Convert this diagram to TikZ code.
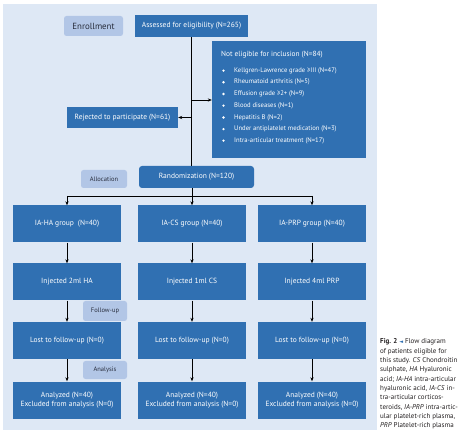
\documentclass[tikz,border=0pt]{standalone}
\usepackage{fontspec}
\setmainfont{PT Sans}
\newfontfamily\dejavu{DejaVu Sans}
\usetikzlibrary{arrows.meta}
\definecolor{panel}{RGB}{222,232,245}
\definecolor{boxblue}{RGB}{48,112,178}
\definecolor{labblue}{RGB}{178,198,230}
\definecolor{labtext}{RGB}{40,45,60}
\definecolor{captext}{RGB}{35,31,32}
\begin{document}
\begin{tikzpicture}[x=1pt,y=-1pt,
  bx/.style={fill=boxblue, text=white, font=\fontsize{7.5}{9.5}\selectfont, inner sep=0pt, align=center},
  bxt/.style={text=white, font=\fontsize{7.5}{9.5}\selectfont, inner sep=0pt},
  lab/.style={fill=labblue, text=labtext, rounded corners=2.5pt, inner sep=0pt, font=\fontsize{6.5}{8}\selectfont},
  itm/.style={anchor=west, text=white, inner sep=0pt, font=\fontsize{6.65}{8}\selectfont},
  bul/.style={circle, fill=white, inner sep=0pt, minimum size=2.6pt},
  arr/.style={draw=black, line width=0.8pt, -{Stealth[length=4pt,width=3.2pt]}},
  ln/.style={draw=black, line width=0.8pt}]
\useasboundingbox (0,0) rectangle (466,438);
\fill[panel] (3,4) rectangle (377,430);

\node[lab, minimum width=59pt, minimum height=20pt, font=\fontsize{8.9}{10}\selectfont] (enr) at (93.5,26) {Enrollment};
\node[bx, minimum width=113pt, minimum height=22pt] (ass) at (191.5,26) {Assessed for eligibility (N=265)};
\node[bx, minimum width=154pt, minimum height=117pt] (ne) at (289,99.5) {};
\node[itm, font=\fontsize{7.4}{8}\selectfont] (neh) at (221,55) {Not eligible for inclusion (N=84)};
\node[bul] (b1) at (223.5,70.7) {}; \node[itm] (t1) at (234,70.7) {Kellgren-Lawrence grade ≥III (N=47)};
\node[bul] (b2) at (223.5,82.3) {}; \node[itm] (t2) at (234,82.3) {Rheumatoid arthritis (N=5)};
\node[bul] (b3) at (223.5,94) {}; \node[itm] (t3) at (234,94) {Effusion grade ≥2+ (N=9)};
\node[bul] (b4) at (223.5,105.7) {}; \node[itm] (t4) at (234,105.7) {Blood diseases (N=1)};
\node[bul] (b5) at (223.5,117.5) {}; \node[itm] (t5) at (234,117.5) {Hepatitis B (N=2)};
\node[bul] (b6) at (223.5,129.1) {}; \node[itm] (t6) at (234,129.1) {Under antiplatelet medication (N=3)};
\node[bul] (b7) at (223.5,140.7) {}; \node[itm] (t7) at (234,140.7) {Intra-articular treatment (N=17)};
\node[bx, minimum width=111pt, minimum height=21pt] (rej) at (122.5,117.5) {Rejected to participate (N=61)};
\node[bx, rounded corners=3pt, minimum width=115pt, minimum height=22pt] (ran) at (196.5,177) {Randomization (N=120)};
\node[lab, minimum width=46pt, minimum height=18pt] (alloc) at (104,179) {Allocation};

\foreach \n/\x in {a/67,b/192,c/312}{
  \node[bx, minimum width=108pt, minimum height=37pt] (g\n) at (\x,224) {};
  \node[bx, minimum width=108pt, minimum height=37pt] (i\n) at (\x,282) {};
  \node[bx, minimum width=108pt, minimum height=37pt] (l\n) at (\x,340.5) {Lost to follow-up (N=0)};
  \node[bx, minimum width=108pt, minimum height=37pt] (z\n) at (\x,400) {Analyzed (N=40)\\Excluded from analysis (N=0)};
}
\node[bxt] (ga-t) at (ga) {IA-HA group\ \ (N=40)};
\node[bxt] (gb-t) at (gb) {IA-CS group (N=40)};
\node[bxt] (gc-t) at (gc) {IA-PRP group (N=40)};
\node[bxt] (ia-t) at (ia) {Injected 2ml HA};
\node[bxt] (ib-t) at (ib) {Injected 1ml CS};
\node[bxt] (ic-t) at (ic) {Injected 4ml PRP};
\node[lab, minimum width=44pt, minimum height=20pt] (fu) at (105,311) {Follow-up};
\node[lab, minimum width=44pt, minimum height=18pt] (an) at (105,370) {Analysis};

% connectors
\coordinate (j1) at (192,100);
\coordinate (j2) at (192,117.5);
\coordinate (j3) at (192,196);
\draw[ln] (ass.south) -- (ass.south |- ran.north);
\draw[arr] (j1) -- (ne.west |- j1);
\draw[arr] (j2) -- (rej.east);
\draw[ln] (ran.south -| j3) -- (j3);
\draw[ln] (ga.north |- j3) -- (gc.north |- j3);
\foreach \n in {a,b,c}{
  \draw[arr] (g\n.north |- j3) -- (g\n.north);
  \draw[arr] (g\n.south) -- (i\n.north);
  \draw[arr] (i\n.south) -- (l\n.north);
  \draw[arr] (l\n.south) -- (z\n.north);
}

% caption
\node[anchor=north west, align=left, inner sep=0pt, text=captext, font=\fontsize{7}{9.33}\selectfont] (cap) at (380,338.5) {%
\textbf{Fig. 2} {\dejavu\fontsize{5}{5}\selectfont\color{boxblue}◄} Flow diagram\\
of patients eligible for\\
this study. \textit{CS} Chondroitin\\
sulphate, \textit{HA} Hyaluronic\\
acid; \textit{IA-HA} intra-articular\\
hyaluronic acid, \textit{IA-CS} in-\\
tra-articular corticos-\\
teroids, \textit{IA-PRP} intra-artic-\\
ular platelet-rich plasma,\\
\textit{PRP} Platelet-rich plasma};
\end{tikzpicture}
\end{document}
